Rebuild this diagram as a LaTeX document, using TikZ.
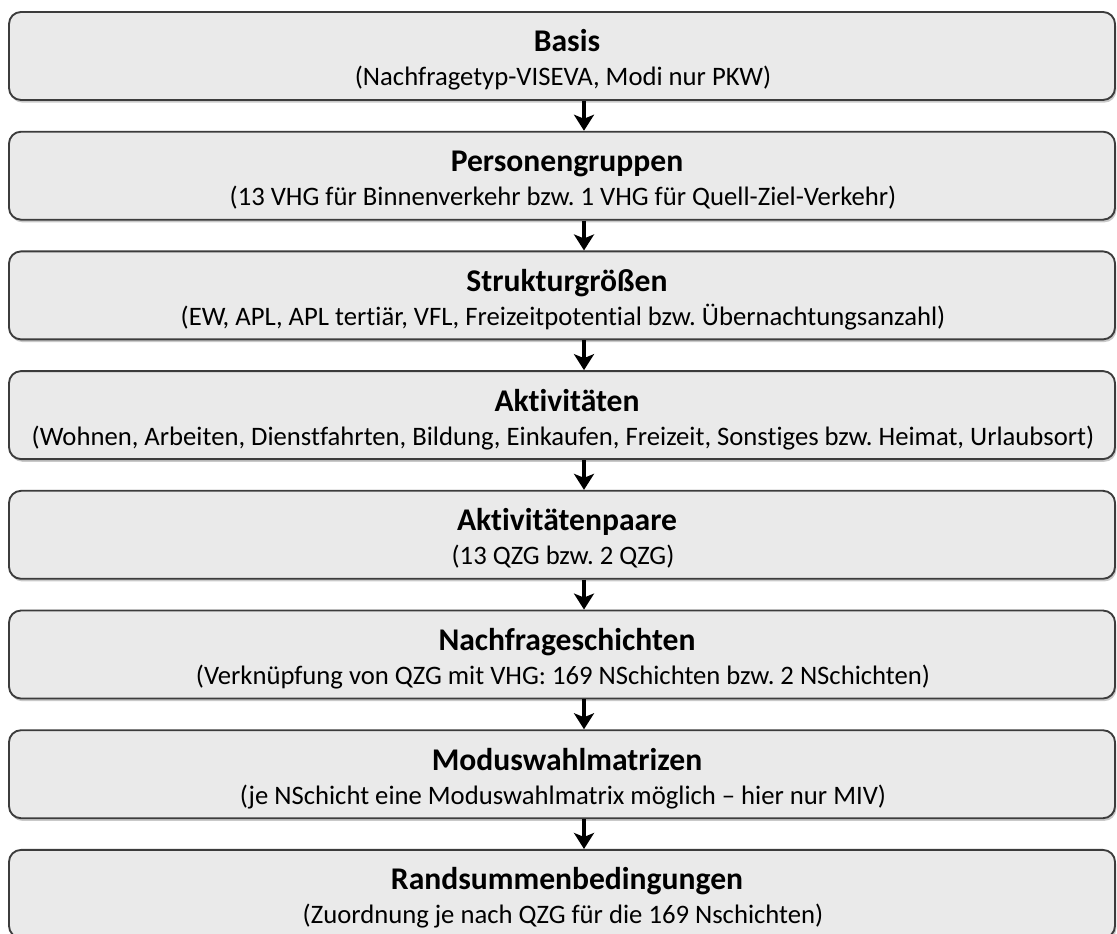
\documentclass[tikz,border=0pt]{standalone}
\usepackage{fontspec}
\setmainfont[Ligatures=NoCommon]{Carlito}
\usetikzlibrary{arrows.meta,shadows,calc}
\definecolor{boxfill}{HTML}{EAEAEA}
\definecolor{boxborder}{HTML}{3C3C3C}
\frenchspacing
\begin{document}
\begin{tikzpicture}[x=0.75pt,y=-0.75pt,
  stepbox/.style={draw=boxborder, line width=1.4pt, fill=boxfill, rounded corners=9pt,
    minimum width=829.5pt, minimum height=66pt, inner sep=0pt,
    drop shadow={shadow xshift=1pt, shadow yshift=-2pt, opacity=0.3, fill=black!70}},
  titletext/.style={font=\fontsize{23.7}{28}\selectfont\bfseries, anchor=base, inner sep=0pt},
  subtext/.style={font=\fontsize{20}{24}\selectfont, anchor=base, inner sep=0pt},
  flow/.style={line width=2.8pt, -{Stealth[length=12pt,width=15pt,inset=3pt]}}]
\useasboundingbox (0,0) rectangle (1117,934);
\clip (0,0) rectangle (1117,934);
\coordinate (ax) at (584,0);
\foreach \i/\ti/\su in {
  0/{Basis}/{(Nachfragetyp-VISEVA, Modi nur PKW)},
  1/{Personengruppen}/{(13 VHG für Binnenverkehr bzw. 1 VHG für Quell-Ziel-Verkehr)},
  2/{Strukturgrößen}/{(EW, APL, APL tertiär, VFL, Freizeitpotential bzw. Übernachtungsanzahl)},
  3/{Aktivitäten}/{(Wohnen, Arbeiten, Dienstfahrten, Bildung, Einkaufen, Freizeit, Sonstiges bzw. Heimat, Urlaubsort)},
  4/{Aktivitätenpaare}/{(13 QZG bzw. 2 QZG)},
  5/{Nachfrageschichten}/{(Verknüpfung von QZG mit VHG: 169 NSchichten bzw. 2 NSchichten)},
  6/{Moduswahlmatrizen}/{(je NSchicht eine Moduswahlmatrix möglich – hier nur MIV)},
  7/{Randsummenbedingungen}/{(Zuordnung je nach QZG für die 169 Nschichten)}} {
  \pgfmathsetmacro{\top}{12+119.7*\i}
  \node[stepbox] (b\i) at (562,\top+44) {};
  \node[titletext] (t\i) at (567,\top+40) {\ti};
  \node[subtext] (s\i) at (563,\top+74) {\su};
}
\foreach \i [evaluate=\i as \j using int(\i+1)] in {0,...,6} {
  \draw[flow] (ax |- b\i.south) -- (ax |- b\j.north);
}
\end{tikzpicture}
\end{document}
